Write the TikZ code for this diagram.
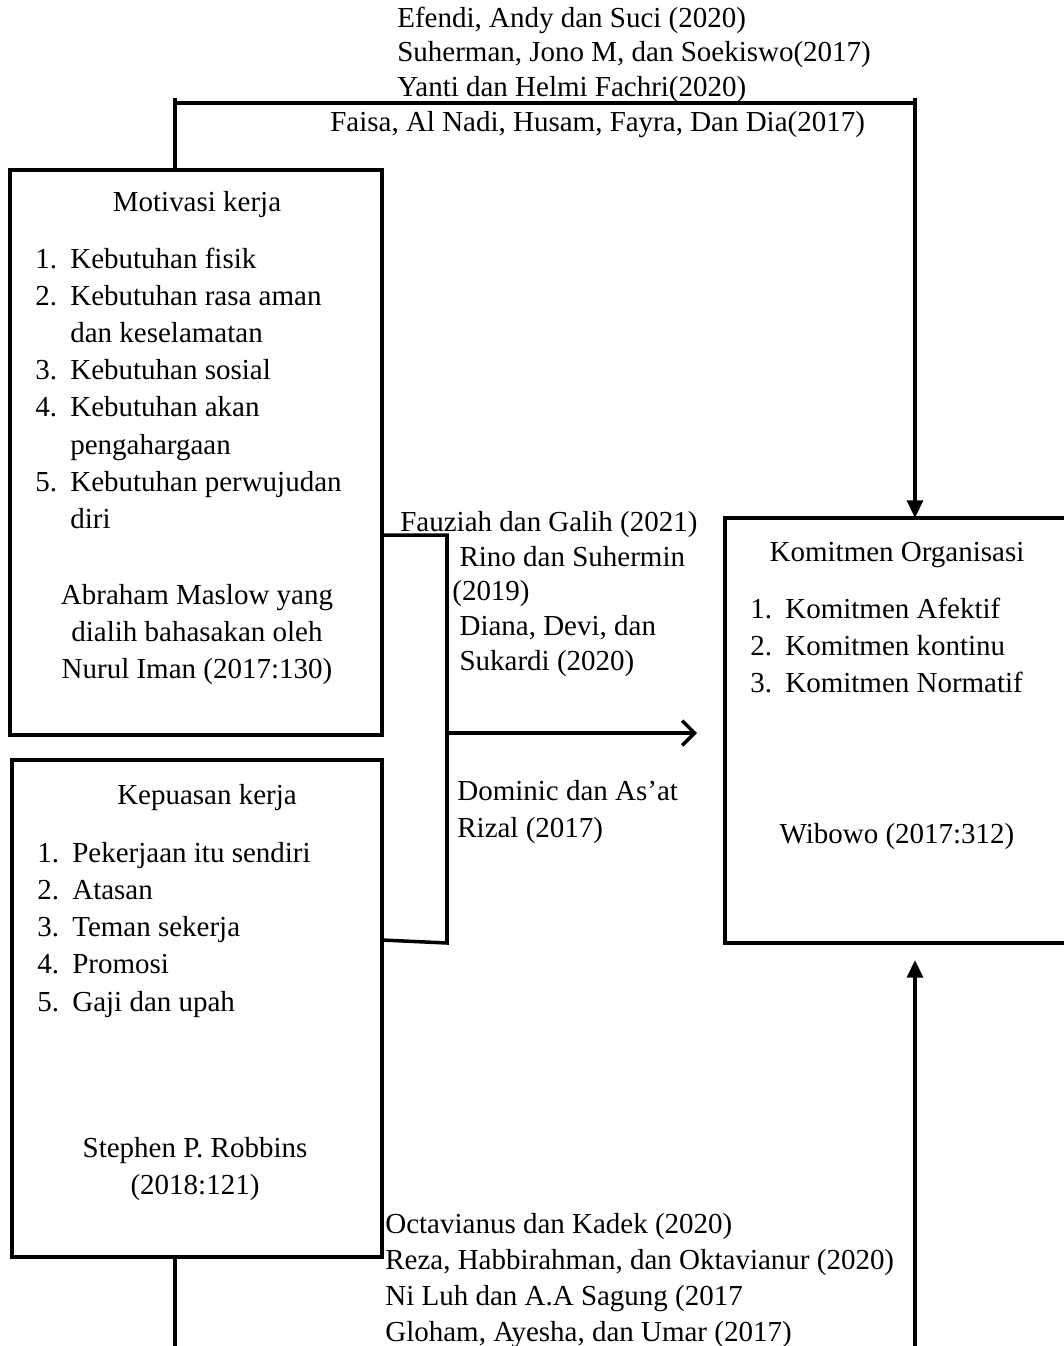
\documentclass[tikz,border=0pt]{standalone}
\usepackage{fontspec}
\setmainfont{Liberation Serif}
\usetikzlibrary{arrows.meta}
\newcommand{\itm}[1]{\makebox[0.7cm][l]{#1}}
\begin{document}
\begin{tikzpicture}[x=0.02cm,y=-0.02cm,line join=miter,
    box/.style={draw,line width=2pt},
    link/.style={line width=2pt},
    lbl/.style={inner sep=0pt,font=\fontsize{16.5}{21.2}\selectfont},
    tight/.style={inner sep=0pt,font=\fontsize{16.5}{19.8}\selectfont},
    >={Triangle[length=10pt,width=9pt]}]
    \useasboundingbox (0,0) rectangle (1063,1346);
    % boxes
    \coordinate (M1) at (10,170);
    \coordinate (M2) at (382,735);
    \draw[box] (M1) rectangle (M2);
    \coordinate (K1) at (12,760);
    \coordinate (K2) at (382,1257);
    \draw[box] (K1) rectangle (K2);
    \coordinate (O1) at (725,518);
    \coordinate (O2) at (1075,943);
    \draw[box] (O1) rectangle (O2);
    % Motivasi kerja
    \node[lbl,anchor=base] (mtitle) at (197,211) {Motivasi kerja};
    \node[lbl,anchor=base west] (mlist) at (35,268) {\begin{tabular}[t]{@{}l@{}}
        \itm{1.}Kebutuhan fisik\\
        \itm{2.}Kebutuhan rasa aman\\
        \itm{}dan keselamatan\\
        \itm{3.}Kebutuhan sosial\\
        \itm{4.}Kebutuhan akan\\
        \itm{}pengahargaan\\
        \itm{5.}Kebutuhan perwujudan\\
        \itm{}diri
    \end{tabular}};
    \node[lbl,anchor=base] (msrc) at (197,604) {\begin{tabular}[t]{@{}c@{}}
        Abraham Maslow yang\\ dialih bahasakan oleh\\ Nurul Iman (2017:130)
    \end{tabular}};
    % Kepuasan kerja
    \node[lbl,anchor=base] (ktitle) at (207,804) {Kepuasan kerja};
    \node[lbl,anchor=base west] (klist) at (37,862) {\begin{tabular}[t]{@{}l@{}}
        \itm{1.}Pekerjaan itu sendiri\\
        \itm{2.}Atasan\\
        \itm{3.}Teman sekerja\\
        \itm{4.}Promosi\\
        \itm{5.}Gaji dan upah
    \end{tabular}};
    \node[lbl,anchor=base] (ksrc) at (195,1157) {\begin{tabular}[t]{@{}c@{}}
        Stephen P. Robbins\\ (2018:121)
    \end{tabular}};
    % Komitmen Organisasi
    \node[lbl,anchor=base] (otitle) at (897,561) {Komitmen Organisasi};
    \node[lbl,anchor=base west] (olist) at (750,618) {\begin{tabular}[t]{@{}l@{}}
        \itm{1.}Komitmen Afektif\\
        \itm{2.}Komitmen kontinu\\
        \itm{3.}Komitmen Normatif
    \end{tabular}};
    \node[lbl,anchor=base] (osrc) at (897,843) {Wibowo (2017:312)};
    % references
    \node[tight,anchor=base west] (rtop) at (397,27) {\begin{tabular}[t]{@{}l@{}}
        Efendi, Andy dan Suci (2020)\\
        Suherman, Jono M, dan Soekiswo(2017)\\
        Yanti dan Helmi Fachri(2020)
    \end{tabular}};
    \node[lbl,anchor=base west] (rtop2) at (330,131) {Faisa, Al Nadi, Husam, Fayra, Dan Dia(2017)};
    \node[lbl,anchor=base west] (rmid) at (400,531) {Fauziah dan Galih (2021)};
    \node[tight,anchor=base west] (rmid2) at (452,566) {\begin{tabular}[t]{@{}l@{}}
        \ Rino dan Suhermin\\
        (2019)\\
        \ Diana, Devi, dan\\
        \ Sukardi (2020)
    \end{tabular}};
    \node[lbl,anchor=base west] (rmid3) at (457,800) {\begin{tabular}[t]{@{}l@{}}
        Dominic dan As'at\\ Rizal (2017)
    \end{tabular}};
    \node[lbl,anchor=base west,font=\fontsize{16.5}{20.5}\selectfont] (rbot) at (385,1233) {\begin{tabular}[t]{@{}l@{}}
        Octavianus dan Kadek (2020)\\
        Reza, Habbirahman, dan Oktavianur (2020)\\
        Ni Luh dan A.A Sagung (2017\\
        Gloham, Ayesha, dan Umar (2017)
    \end{tabular}};
    % connectors
    \coordinate (A) at (175,170);
    \coordinate (B) at (175,103);
    \coordinate (C) at (915,103);
    \coordinate (D) at (915,518);
    \draw[link] (A)--(175,98) (B)--(917,103) (915,98)--(C);
    \draw[link,->] (C)--(D);
    \coordinate (E) at (382,535);
    \coordinate (F) at (447,535);
    \coordinate (G) at (447,943);
    \coordinate (H) at (382,940);
    \draw[link] (E)--(F)--(G)--(H);
    \coordinate (P) at (447,733);
    \coordinate (Q) at (697,733);
    \draw[link,-{Straight Barb[length=7pt,width=14pt]}] (P)--(Q);
    \coordinate (S) at (175,1257);
    \coordinate (T) at (175,1350);
    \draw[link] (S)--(T);
    \coordinate (U) at (915,1350);
    \coordinate (V) at (915,960);
    \draw[link,->] (U)--(V);
\end{tikzpicture}
\end{document}
